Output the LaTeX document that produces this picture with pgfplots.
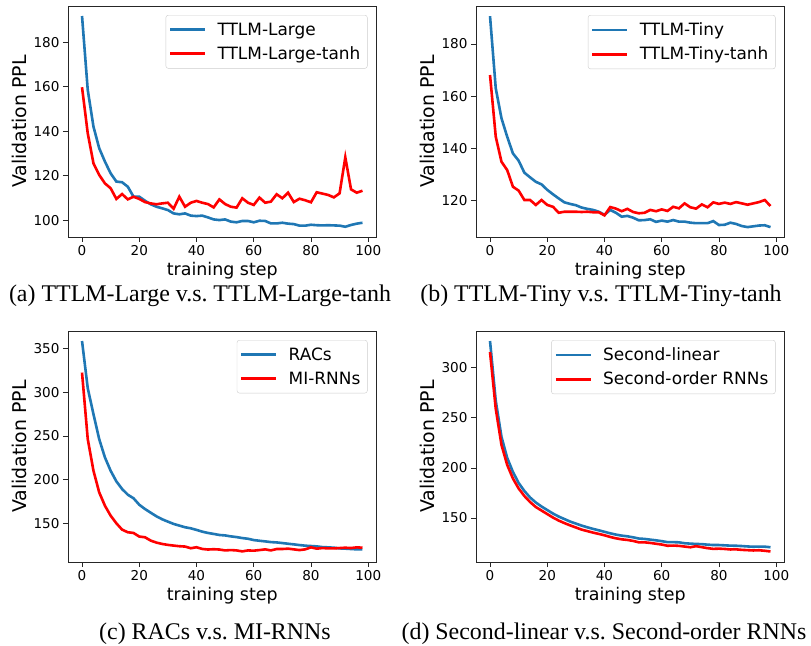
\documentclass[border=0pt]{standalone}
\usepackage{fontspec}
\setmainfont{DejaVu Sans}
\newfontfamily\capfont{Liberation Serif}
\usepackage{pgfplots}
\usepackage{pgfplotstable}
\pgfplotsset{compat=1.18}
\frenchspacing
\definecolor{mplblue}{HTML}{1F77B4}

% step, blue curve, red curve
\pgfplotstableread{
s b r
0 191.8 159.8
2 158.6 139.1
4 142.1 125.6
6 132.4 120.4
8 126.4 116.6
10 121.1 114.4
12 117.4 109.6
14 117.1 111.8
16 115.1 109.4
18 110.6 110.6
20 110.6 109.6
22 108.8 108.2
24 107.2 107.6
26 106.1 107.2
28 105.4 107.6
30 104.6 107.9
32 103.1 105.2
34 102.7 110.6
36 103.1 106.1
38 102.1 107.9
40 101.9 108.7
42 102.1 107.9
44 101.3 107.3
46 100.4 105.8
48 100.1 109.4
50 100.4 107.3
52 99.4 106.1
54 99.1 105.7
56 99.7 109.9
58 99.7 107.9
60 99.1 106.9
62 99.8 110.2
64 99.7 107.9
66 98.6 108.4
68 98.6 111.7
70 98.9 109.9
72 98.5 112.4
74 98.3 108.2
76 97.6 109.7
78 97.6 109.0
80 98.0 108.1
82 97.8 112.6
84 97.7 112.0
86 97.8 111.4
88 97.7 110.3
90 97.6 112.1
92 97.1 128.3
94 97.9 113.9
96 98.5 112.4
98 98.9 113.3
}\tabA

\pgfplotstableread{
s b r
0 190.7 168.1
2 163.0 144.4
4 151.5 134.8
6 144.4 131.6
8 138.0 125.2
10 135.2 123.7
12 130.6 120.1
14 128.8 120.1
16 127.1 118.2
18 126.1 120.1
20 124.0 118.2
22 122.3 117.5
24 120.7 115.2
26 119.2 115.6
28 118.6 115.6
30 118.1 115.6
32 117.2 115.5
34 116.7 115.6
36 116.3 115.4
38 115.6 115.4
40 114.4 114.2
42 116.3 117.4
44 115.2 116.8
46 113.7 115.8
48 114.0 116.7
50 113.3 115.5
52 112.3 115.0
54 112.4 115.2
56 112.7 116.3
58 111.7 115.8
60 112.2 116.5
62 111.8 115.9
64 112.4 117.5
66 111.8 116.9
68 111.8 118.8
70 111.4 117.3
72 111.2 116.8
74 111.2 118.4
76 111.2 117.3
78 112.0 119.2
80 110.5 118.6
82 110.6 119.1
84 111.4 118.6
86 110.9 119.3
88 110.1 118.8
90 109.7 118.3
92 110.0 118.8
94 110.3 119.3
96 110.4 120.1
98 109.7 117.8
}\tabB

\pgfplotstableread{
s b r
0 358.3 322.3
2 304.5 246.5
4 274.9 210.4
6 246.5 185.8
8 225.6 170.6
10 210.4 159.2
12 198.3 150.5
14 189.6 143.3
16 183.1 140.3
18 179.0 139.5
20 171.7 135.4
22 166.8 134.6
24 162.6 130.8
26 158.5 128.5
28 155.1 127.0
30 152.4 125.9
32 149.8 125.1
34 147.9 124.4
36 146.0 124.0
38 144.8 122.1
40 143.0 123.2
42 141.0 121.3
44 139.5 120.6
46 138.4 121.0
48 137.2 120.6
50 136.7 119.6
52 135.6 120.0
54 134.8 119.6
56 133.7 118.5
58 132.9 119.6
60 131.4 119.3
62 130.6 120.0
64 129.9 120.8
66 129.1 119.6
68 128.7 121.2
70 128.0 121.2
72 127.2 121.6
74 126.5 120.8
76 125.7 120.0
78 125.0 120.8
80 124.6 123.1
82 124.2 121.6
84 123.4 122.3
86 123.1 121.9
88 122.7 121.9
90 121.9 122.3
92 121.6 122.7
94 121.2 122.3
96 120.8 123.1
98 120.8 122.7
}\tabC

\pgfplotstableread{
s b r
0 326.5 315.5
2 267.0 259.0
4 231.0 223.0
6 210.0 203.0
8 196.0 189.5
10 185.0 179.5
12 177.0 172.0
14 170.5 166.0
16 165.5 161.0
18 161.5 157.5
20 158.0 154.0
22 154.5 150.5
24 151.5 147.5
26 149.0 145.0
28 146.5 142.7
30 144.5 140.6
32 142.5 138.5
34 140.8 137.0
36 139.2 135.5
38 137.8 134.2
40 136.3 132.8
42 134.8 131.2
44 133.5 129.8
46 132.5 128.8
48 131.8 128.2
50 130.8 127.2
52 129.6 125.8
54 129.2 125.8
56 128.5 125.2
58 127.8 124.4
60 127.0 123.6
62 126.0 122.4
64 126.0 122.6
66 125.8 122.3
68 124.9 121.6
70 124.5 120.9
72 124.2 122.0
74 124.0 121.0
76 123.5 120.0
78 123.1 119.3
80 123.1 119.5
82 122.8 119.2
84 122.5 118.7
86 122.4 118.8
88 122.1 118.3
90 121.7 118.0
92 121.4 117.7
94 121.6 117.9
96 121.5 117.4
98 120.9 116.7
}\tabD

\pgfplotsset{
  panel/.style={
    scale only axis, width=308.5bp, height=231bp,
    xmin=-4.9, xmax=102.9, xtick={0,20,...,100},
    axis line style={black!85, line width=0.8bp},
    tick align=outside, xtick pos=bottom, ytick pos=left,
    major tick length=5bp,
    every tick/.style={black!85, line width=0.8bp},
    /pgf/number format/assume math mode=true,
    tick label style={font=\fontsize{13.6}{16}\selectfont},
    xlabel={training step}, ylabel={Validation PPL},
    xlabel style={font=\fontsize{17.5}{20}\selectfont},
    ylabel style={font=\fontsize{19}{22}\selectfont},
    legend style={at={(0.971,0.961)}, anchor=north east,
      draw=black!20, rounded corners=2.5bp,
      inner xsep=3bp, inner ysep=5.5bp, row sep=6bp,
      nodes={font=\fontsize{17}{20}\selectfont, inner xsep=4bp, inner ysep=2bp},
      /tikz/every odd column/.append style={column sep=7bp}},
    legend cell align=left,
    legend image code/.code={\draw[#1, line width=2.7bp] (0bp,0bp) -- (35bp,0bp);},
  },
  blu/.style={mplblue, line width=2.6bp},
  rd/.style={red, line width=2.6bp},
}

\begin{document}
\begin{tikzpicture}
\useasboundingbox (0,0) rectangle (811bp,646bp);

\begin{axis}[panel, at={(68bp,409bp)}, anchor=south west,
  ymin=92.5, ymax=196.3, ytick={100,120,...,180}]
\addplot[blu] table[x=s, y=b] {\tabA};
\addplot[rd] table[x=s, y=r] {\tabA};
\legend{TTLM-Large, TTLM-Large-tanh}
\end{axis}

\begin{axis}[panel, at={(476bp,409bp)}, anchor=south west,
  ymin=105.9, ymax=194.6, ytick={120,140,...,180}]
\addplot[blu] table[x=s, y=b] {\tabB};
\addplot[rd] table[x=s, y=r] {\tabB};
\legend{TTLM-Tiny, TTLM-Tiny-tanh}
\end{axis}

\begin{axis}[panel, at={(68bp,84bp)}, anchor=south west,
  ymin=106.4, ymax=369.7, ytick={150,200,...,350}]
\addplot[blu] table[x=s, y=b] {\tabC};
\addplot[rd] table[x=s, y=r] {\tabC};
\legend{RACs, MI-RNNs}
\end{axis}

\begin{axis}[panel, at={(476bp,84bp)}, anchor=south west,
  ymin=106.2, ymax=336.5, ytick={150,200,...,300}]
\addplot[blu] table[x=s, y=b] {\tabD};
\addplot[rd] table[x=s, y=r] {\tabD};
\legend{Second-linear, Second-order RNNs}
\end{axis}

\begin{scope}[every node/.style={font=\capfont\fontsize{24}{28}\selectfont}]
\node at (200bp,350bp) {(a) TTLM-Large v.s. TTLM-Large-tanh};
\node at (601bp,350bp) {(b) TTLM-Tiny v.s. TTLM-Tiny-tanh};
\node at (215bp,12bp) {(c) RACs v.s. MI-RNNs};
\node at (604bp,12bp) {(d) Second-linear v.s. Second-order RNNs};
\end{scope}
\end{tikzpicture}
\end{document}
